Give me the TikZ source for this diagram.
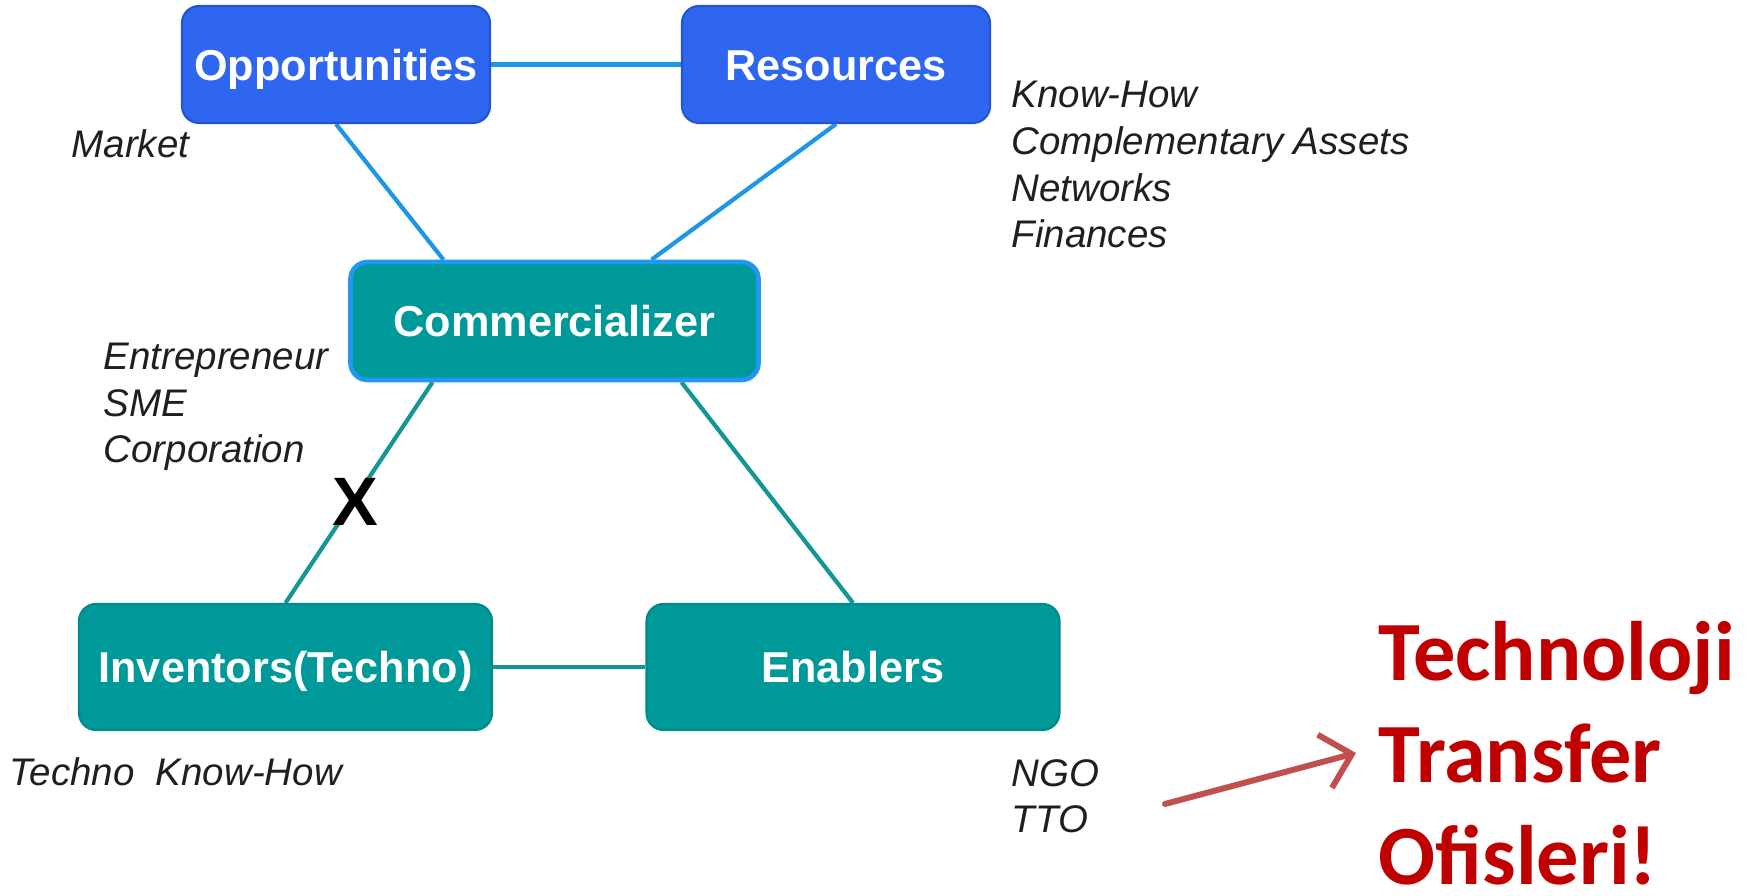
\documentclass[tikz,border=0pt]{standalone}
\usepackage{fontspec}
\setmainfont{Liberation Sans}
\newfontfamily\redfont{Carlito}
\usepackage{xcolor}
\usepackage{tikz}
\usetikzlibrary{positioning, calc, backgrounds, arrows.meta}
\definecolor{boxblue}{RGB}{46, 102, 240}
\definecolor{boxblueline}{RGB}{36, 84, 214}
\definecolor{boxteal}{RGB}{0, 153, 153}
\definecolor{boxtealline}{RGB}{0, 138, 140}
\definecolor{commline}{RGB}{33, 150, 243}
\definecolor{linkblue}{RGB}{30, 150, 232}
\definecolor{linkteal}{RGB}{18, 150, 150}
\definecolor{TTORed}{RGB}{192, 0, 0}
\definecolor{arrowred}{RGB}{192, 80, 77}
\tikzset{
    topbox/.style={
        draw=boxblueline, fill=boxblue, rounded corners=0.17cm, line width=0.6pt,
        text=white, font=\fontsize{12.3}{14}\selectfont\bfseries,
        text height=1.7ex, text depth=0pt,
        minimum width=3.08cm, minimum height=1.17cm, anchor=center
    },
    lowbox/.style={
        draw=boxtealline, fill=boxteal, rounded corners=0.17cm, line width=0.6pt,
        text=white, font=\fontsize{12.3}{14}\selectfont\bfseries,
        text height=1.7ex, text depth=0pt,
        minimum width=4.13cm, minimum height=1.26cm, anchor=center
    },
    bluelink/.style={
        line width=1.2pt, linkblue
    },
    teallink/.style={
        line width=1.2pt, linkteal
    },
    note/.style={
        anchor=base west, inner sep=0pt, align=left, text=black!88,
        font=\fontsize{10.95}{13.3}\selectfont\itshape
    }
}

\begin{document}
\begin{tikzpicture}[
        ttotext/.style={
            anchor=west, inner sep=0.22cm, align=left, text=TTORed,
            font=\redfont\bfseries\fontsize{24}{29}\selectfont
        },
        ttoarrow/.style={
            -{Straight Barb[length=0.28cm, width=0.55cm]},
            line width=1.7pt, line cap=round, arrowred
        }
    ]
        \useasboundingbox (0,0) rectangle (17.6,-8.96);

        % Boxes
        \node[topbox] (nOpp) at (3.36,-0.645) {Opportunities};
        \node[topbox] (nRes) at (8.36,-0.645) {Resources};
        \node[lowbox, draw=commline, line width=1.3pt, minimum width=4.08cm,
              minimum height=1.18cm] (nComm) at (5.545,-3.21) {Commercializer};
        \node[lowbox] (nInv) at (2.855,-6.67) {Inventors(Techno)};
        \node[lowbox] (nEna) at (8.53,-6.67) {Enablers};

        % Links behind the boxes
        \begin{scope}[on background layer]
            \draw[bluelink] (nOpp.east) -- (nRes.west);
            \draw[bluelink] (nOpp.south) -- ([xshift=-1.11cm]nComm.north);
            \draw[bluelink] (nRes.south) -- ([xshift=0.97cm]nComm.north);
            \draw[teallink] ([xshift=-1.22cm]nComm.south) -- (nInv.north);
            \draw[teallink] ([xshift=1.27cm]nComm.south) -- (nEna.north);
            \draw[teallink] (nInv.east) -- (nEna.west);
        \end{scope}

        % Side notes (base = last line)
        \node[note] (lMarket) at (0.71,-1.58) {Market};
        \node[note] (lRes) at (10.11,-2.48) {Know-How\\Complementary Assets\\Networks\\Finances};
        \node[note] (lComm) at (1.03,-4.63) {Entrepreneur\\SME\\Corporation};
        \node[note] (lInv) at (0.09,-7.86) {Techno~~Know-How};
        \node[note] (lEna) at (10.11,-8.33) {NGO\\TTO};

        % Broken link mark
        \node[font=\fontsize{19.5}{19.5}\selectfont\bfseries] (nX) at (3.55,-5.02) {X};

        % TTO callout
        \node[ttotext] (nTTO) at (13.56,-7.53) {Technoloji\\Transfer\\Ofisleri!};
        \coordinate (aTail) at (11.65,-8.04);
        \draw[ttoarrow] (aTail) -- (nTTO.west);

    \end{tikzpicture}
\end{document}
